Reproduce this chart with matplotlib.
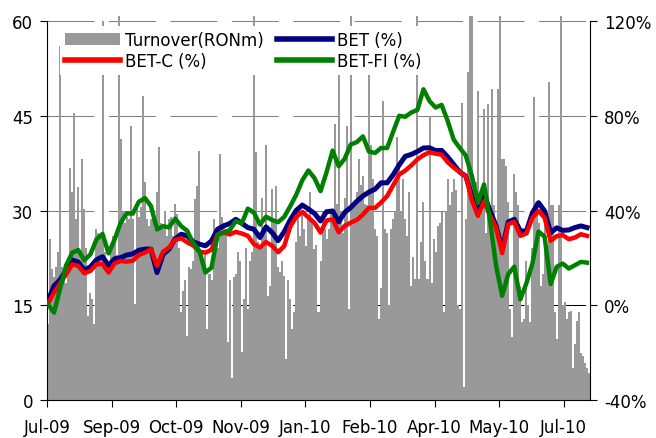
import numpy as np
import matplotlib
matplotlib.use("Agg")
import matplotlib.pyplot as plt
from matplotlib.lines import Line2D
from matplotlib.patches import Patch

# daily turnover, RON m (one bar per trading day)
turnover = [
    12.0, 25.5, 20.7, 19.5, 21.0, 23.4, 56.0, 21.0, 19.0, 18.5,
    20.5, 36.8, 32.9, 45.4, 28.7, 33.7, 23.4, 38.2, 30.2, 24.0,
    13.3, 17.0, 16.0, 12.0, 27.1, 26.5, 26.0, 60.0, 23.4, 22.0,
    21.3, 24.0, 26.0, 25.0, 23.0, 62.0, 41.3, 29.7, 28.0, 29.0,
    28.7, 43.4, 28.7, 15.2, 30.8, 29.0, 30.5, 48.2, 34.5, 28.7,
    27.5, 28.7, 29.7, 27.0, 33.0, 40.0, 28.0, 27.0, 30.0, 26.0,
    28.7, 29.0, 26.0, 31.0, 29.5, 24.0, 13.9, 17.3, 19.0, 10.2,
    21.0, 20.7, 22.0, 31.8, 33.9, 39.5, 22.0, 21.0, 23.0, 11.2,
    20.0, 19.0, 28.7, 26.0, 24.0, 38.9, 29.0, 28.0, 27.0, 9.2,
    19.0, 3.5, 19.5, 20.0, 23.4, 22.0, 7.6, 16.0, 24.0, 14.4,
    22.0, 23.4, 62.0, 39.2, 25.0, 24.0, 32.0, 27.0, 40.4,
    16.5, 18.0, 33.4, 28.0, 33.9, 21.0, 20.2, 22.0, 19.7, 6.5,
    19.0, 16.0, 11.2, 14.0, 25.0, 29.2, 26.0, 30.0, 27.0, 24.4,
    29.0, 32.9, 28.0, 23.9, 24.5, 13.9, 22.0, 29.7, 27.0, 25.5,
    27.0, 30.0, 29.2, 43.7, 31.0, 55.0, 30.0, 26.5, 32.0, 43.4,
    14.4, 62.0, 31.0, 30.8, 33.0, 38.2, 34.0, 35.5, 31.0, 30.8,
    55.0, 40.3, 35.0,
    27.0, 26.0, 12.8, 17.7, 47.4, 27.0, 26.5, 15.0, 27.0, 28.7,
    30.0, 41.6, 37.1, 30.0, 35.0, 28.7, 26.0, 32.9, 18.0, 22.6,
    19.2, 62.0, 19.2, 25.0, 31.3, 22.0, 19.2, 45.0, 18.6, 25.5,
    23.4, 27.6, 28.0, 29.7, 13.9, 30.0, 35.0, 30.8, 33.0, 35.0,
    33.2, 15.0, 14.4, 47.1, 2.0, 28.7, 52.0, 62.0, 62.0, 34.0,
    34.5, 49.0, 29.2, 30.0, 46.0, 26.5, 46.9, 30.0, 49.2, 30.8,
    28.0, 49.2, 63.0, 38.2, 38.2, 37.1, 31.3, 14.4, 10.0, 35.8,
    33.0, 30.8, 18.1, 12.3, 12.8, 22.0, 15.0, 12.3, 24.0, 47.9,
    31.3, 28.0, 18.1, 20.0, 28.7, 24.0, 50.3, 30.8, 30.8, 13.9,
    9.7, 30.8, 62.0, 15.0, 15.5, 12.8, 13.9, 14.1, 5.1, 8.8,
    12.5, 13.9, 7.5, 7.0, 5.9, 5.0, 4.2,
]

# index returns since start, %, every 3rd trading day
bet = [
    2.0, 8.2, 10.8, 14.9, 19.1, 18.2, 14.9, 16.2, 19.2, 20.5,
    16.8, 19.6, 20.1, 21.2, 21.7, 23.2, 23.7, 23.7,
    13.8, 21.5, 23.7, 28.0, 30.0, 29.3, 26.8, 25.8, 25.1, 27.2,
    32.1, 33.5, 34.5, 36.3, 34.6, 32.8, 32.1, 28.6,
    33.1, 30.7, 27.3, 31.0, 36.0, 40.1, 42.3, 40.6, 38.8, 35.6,
    39.5, 39.8, 35.2, 39.2, 41.3, 43.9, 46.1, 47.8,
    49.0, 51.7, 51.7, 55.1, 59.3, 62.9, 63.7, 64.9, 66.4, 66.5,
    65.3, 65.4, 62.6, 59.4, 56.2, 54.5, 46.1, 38.4, 46.8,
    39.9, 33.5, 23.5, 35.2, 36.3, 31.4, 31.3, 39.1, 43.3, 39.8,
    30.6, 32.7, 31.6, 31.8, 32.8, 33.5, 32.8,
]
bet_c = [
    0.7, 5.4, 9.3, 13.1, 17.3, 16.6, 13.5, 14.5, 17.3, 17.4,
    13.8, 17.7, 18.7, 18.4, 18.8, 21.2, 22.2, 23.7,
    16.6, 22.6, 24.4, 27.6, 28.3, 26.5, 25.2, 22.6, 22.2, 23.5,
    29.9, 30.7, 29.9, 31.0, 30.3, 29.3, 25.8, 24.4,
    26.7, 25.1, 22.4, 25.0, 33.2, 37.4, 39.4, 37.1, 34.8, 30.7,
    35.8, 36.3, 30.8, 33.5, 34.9, 36.0, 38.3, 41.1,
    41.1, 43.4, 46.1, 50.7, 55.2, 56.9, 59.1, 61.6, 63.4, 64.6,
    64.0, 63.6, 60.4, 58.1, 56.2, 54.4, 44.3, 37.7, 44.0,
    37.8, 32.7, 22.0, 34.3, 35.2, 29.3, 30.3, 37.0, 39.8, 37.0,
    27.2, 29.2, 29.6, 27.9, 28.6, 30.0, 29.3,
]
bet_fi = [
    0.3, -3.1, 7.1, 16.9, 22.2, 23.3, 19.0, 21.5, 27.8, 30.1,
    21.9, 27.8, 34.9, 38.8, 38.7, 43.7, 45.3, 41.9,
    32.0, 33.4, 32.9, 36.6, 33.4, 31.4, 26.0, 22.9, 13.8, 15.9,
    29.6, 30.7, 31.7, 35.5, 34.6, 40.8, 39.1, 34.1,
    37.4, 36.0, 35.1, 37.3, 41.8, 46.7, 52.8, 56.9, 53.7, 48.2,
    56.2, 65.3, 58.7, 61.9, 67.9, 68.9, 71.3, 64.9,
    64.3, 66.4, 66.4, 73.3, 80.0, 79.6, 81.4, 82.5, 91.2, 86.2,
    83.5, 84.6, 77.8, 69.9, 66.4, 63.2, 54.5, 43.3, 51.0,
    35.6, 16.6, 4.0, 13.2, 16.3, 2.5, 9.3, 17.7, 31.1, 29.0,
    9.0, 16.2, 17.6, 15.5, 16.9, 18.3, 18.0,
]

month_labels = ["Jul-09", "Sep-09", "Oct-09", "Nov-09", "Jan-10",
                "Feb-10", "Apr-10", "May-10", "Jul-10"]
label_step = 32
line_step = 3

left_ticks = [0, 15, 30, 45, 60]
right_ticks = [-40, 0, 40, 80, 120]

bar_color = "#999999"
col_bet = "#000080"
col_betc = "#ff0000"
col_betfi = "#008000"

plt.rcParams["font.family"] = "DejaVu Sans"
plt.rcParams["font.size"] = 12

n = len(turnover)
x = np.arange(n)
xl = np.arange(len(bet)) * line_step

fig = plt.figure(figsize=(6.56, 4.39), dpi=100)
ax1 = fig.add_axes([47 / 656, 38 / 439, 543 / 656, 384 / 439])

top = 60.8
ax1.set_ylim(0, top)
ax1.set_xlim(-0.5, n - 0.5)

for v in left_ticks[1:]:
    ax1.axhline(v, color="black" if v == 15 else "#808080", lw=0.75,
                dashes=(45, 14), zorder=0.5)

ax1.bar(x, turnover, width=1.0, color=bar_color, linewidth=0, zorder=1)

ax1.set_yticks(left_ticks)
ax1.set_xticks(np.arange(len(month_labels)) * label_step - 0.5)
ax1.set_xticklabels(month_labels)
ax1.tick_params(axis="y", direction="out", length=5, width=0.8, pad=5)
ax1.tick_params(axis="x", direction="out", length=5, width=0.8, pad=8)
ax1.spines["top"].set_visible(False)
ax1.spines["right"].set_visible(False)
ax1.spines["left"].set_bounds(0, 60)

ax2 = ax1.twinx()
ax2.set_ylim(-40, top / 0.375 - 40)
ax2.plot(xl, bet, color=col_bet, lw=3.6, solid_joinstyle="round", zorder=3)
ax2.plot(xl, bet_c, color=col_betc, lw=3.2, solid_joinstyle="round", zorder=4)
ax2.plot(xl, bet_fi, color=col_betfi, lw=3.2, solid_joinstyle="round", zorder=5)
ax2.set_yticks(right_ticks)
ax2.set_yticklabels(["%d%%" % t for t in right_ticks])
ax2.tick_params(axis="y", direction="out", length=5, width=0.8, pad=5)
for s in ["top", "left", "bottom"]:
    ax2.spines[s].set_visible(False)
ax2.spines["right"].set_bounds(-40, 120)

handles = [Patch(facecolor=bar_color, edgecolor="none"),
           Line2D([], [], color=col_betc, lw=4),
           Line2D([], [], color=col_bet, lw=4),
           Line2D([], [], color=col_betfi, lw=4)]
labels = ["Turnover(RONm)", "BET-C (%)", "BET (%)", "BET-FI (%)"]
leg = ax2.legend(handles, labels, ncol=2, loc="upper left",
                 bbox_to_anchor=(0.024, 0.975), borderaxespad=0,
                 borderpad=0.3, handlelength=3.3, handleheight=0.75,
                 handletextpad=0.3, columnspacing=0.8, labelspacing=0.2,
                 fancybox=False, framealpha=1)
leg.get_frame().set_linewidth(0)

fig.savefig("out.png", dpi=100)
